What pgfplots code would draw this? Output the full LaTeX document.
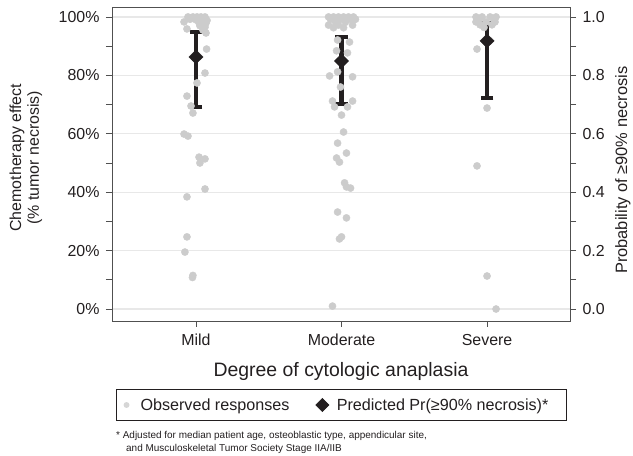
\documentclass[border=0pt]{standalone}
\usepackage{pgfplots}
\pgfplotsset{compat=1.18}
\usepackage{pgfplotstable}
\usepackage{fontspec}
\setmainfont{Liberation Sans}
\definecolor{dotgray}{RGB}{204,204,204}
\definecolor{legdot}{RGB}{214,214,214}
\definecolor{dark}{RGB}{35,31,32}
\definecolor{framegray}{RGB}{80,80,80}
\definecolor{gridgray}{RGB}{232,232,232}

% Observed responses (x = category + jitter, y = % necrosis)
\pgfplotstableread{
x y
0.945 100
0.979 100
1.007 100
1.034 100
1.062 100
0.959 99.2
1.000 99.0
1.048 99.3
1.076 98.8
0.918 98.3
1.021 98.0
1.069 97.9
1.027 97.0
1.062 96.5
0.938 95.9
1.048 95.5
1.069 94.5
1.073 89.0
1.062 80.8
1.007 77.4
0.938 72.9
0.966 69.5
0.979 67.1
0.918 59.9
0.945 59.2
1.021 52.0
1.062 51.4
1.027 50.0
1.062 41.1
0.938 38.4
0.938 24.7
0.924 19.5
0.979 11.5
0.976 10.8
1.911 100
1.945 100
1.979 100
2.014 100
2.048 100
2.082 100
1.924 99.2
1.993 99.2
2.062 99.2
2.096 99.2
1.959 98.2
2.027 98.2
1.911 97.2
1.979 97.2
2.076 97.2
2.014 96.3
1.945 96.3
1.973 92.1
2.055 91.4
1.966 88.4
2.041 87.7
1.973 81.2
1.918 79.8
2.076 79.5
1.993 76.0
1.938 71.2
2.076 71.2
1.952 69.2
2.041 69.2
2.000 66.4
2.014 60.6
1.973 56.8
2.034 53.4
1.966 51.7
1.986 50.3
2.021 43.2
2.062 41.4
2.034 41.8
1.973 33.2
2.034 31.2
2.000 24.7
1.986 24.0
1.938 1.0
2.924 100
2.966 100
3.021 100
3.062 100
2.945 99.2
3.048 99.2
2.924 98.3
2.993 98.3
3.055 98.3
2.952 97.3
3.034 97.3
2.979 96.4
2.931 89.0
3.000 68.8
2.931 49.0
3.000 11.3
3.062 0.0
}\obs

\begin{document}
\begin{tikzpicture}
\useasboundingbox (0,0) rectangle (633bp,456bp);
\begin{axis}[
  at={(112bp,135bp)}, anchor=south west,
  scale only axis, width=458bp, height=314bp,
  xmin=0.423, xmax=3.570, ymin=-4.1, ymax=103.4,
  xtick={1,2,3}, xticklabels={Mild,Moderate,Severe},
  ytick={0,20,40,60,80,100}, minor ytick={10,30,50,70,90},
  yticklabel={\pgfmathprintnumber{\tick}\%},
  /pgf/number format/assume math mode=true,
  tick align=outside, xtick pos=bottom, ytick pos=left,
  major tick length=6bp, minor tick length=6bp,
  tick style={framegray, line width=0.8bp},
  axis line style={framegray, line width=0.9bp},
  ymajorgrids, grid style={gridgray, line width=1.3bp},
  ticklabel style={font=\fontsize{16}{19}\selectfont, text=dark},
  xticklabel style={text height=11.5bp, text depth=3.5bp, yshift=-3bp},
  yticklabel style={xshift=-3bp},
  xlabel={Degree of cytologic anaplasia},
  xlabel style={at={(axis description cs:0.5,-0.162)}, anchor=center,
    font=\fontsize{19.5}{23}\selectfont, text=dark},
  ylabel={Chemotherapy effect\\(\% tumor necrosis)},
  ylabel style={at={(axis description cs:-0.188,0.52)}, anchor=center,
    align=center, font=\fontsize{16}{18}\selectfont, text=dark},
  legend columns=2,
  legend style={at={(0.501,-0.2675)}, anchor=center, draw=dark, line width=0.8bp,
    font=\fontsize{16.2}{19}\selectfont, text=dark,
    inner xsep=4bp, inner ysep=7bp,
    /tikz/every even column/.append style={column sep=24bp}},
]
\addplot[only marks, mark=*, mark size=3.6bp, color=dotgray,
  mark options={draw=dotgray, fill=dotgray},
  legend image code/.code={\path[draw=none,fill=none] (0,0) -- (18bp,0); \fill[legdot] (6bp,0) circle (2.5bp);}]
  table[x=x, y=y] {\obs};
\addlegendentry{Observed responses}
\addplot[only marks, mark=none, forget plot,
  error bars/.cd, y dir=both, y explicit,
  error bar style={dark, line width=4.5bp},
  error mark options={rotate=90, dark, line width=4bp, mark size=6.2bp}]
  coordinates {
    (1,86.3) += (0,8.6) -= (0,17.1)
    (2,84.9) += (0,8.3) -= (0,14.7)
    (3,91.8) += (0,6.2) -= (0,19.5)
  };
\addplot[only marks, mark=diamond*, mark size=7bp,
  mark options={draw=dark, fill=dark, xscale=1.35},
  legend image code/.code={\path[draw=none,fill=none] (0,0) -- (19bp,0); \fill[dark] (0,0)--(6.5bp,6.5bp)--(13bp,0)--(6.5bp,-6.5bp)--cycle;}]
  coordinates {(1,86.3) (2,84.9) (3,91.8)};
\addlegendentry{Predicted Pr(≥90\% necrosis)*\kern12bp\rule{0pt}{1pt}}
\end{axis}
\begin{axis}[
  at={(112bp,135bp)}, anchor=south west,
  scale only axis, width=458bp, height=314bp,
  xmin=0.423, xmax=3.570, ymin=-0.041, ymax=1.034,
  axis x line=none, axis y line*=right,
  ytick={0,0.2,0.4,0.6,0.8,1}, minor ytick={0.1,0.3,0.5,0.7,0.9},
  /pgf/number format/assume math mode=true,
  tick align=outside,
  major tick length=6bp, minor tick length=6bp,
  tick style={framegray, line width=0.8bp},
  axis line style={framegray, line width=0.9bp},
  ticklabel style={font=\fontsize{16}{19}\selectfont, text=dark},
  yticklabel style={xshift=3bp, /pgf/number format/.cd, fixed, fixed zerofill, precision=1},
  ylabel={Probability of ≥90\% necrosis},
  ylabel style={at={(axis description cs:1.1245,0.48)}, anchor=base,
    font=\fontsize{16.5}{19}\selectfont, text=dark},
]
\addplot[draw=none] coordinates {(1,0)};
\end{axis}
\node[anchor=base west, font=\fontsize{10}{12}\selectfont, text=dark, inner sep=0pt]
  at (116bp,17.5bp) {* Adjusted for median patient age, osteoblastic type, appendicular site,};
\node[anchor=base west, font=\fontsize{10}{12}\selectfont, text=dark, inner sep=0pt]
  at (126bp,5bp) {and Musculoskeletal Tumor Society Stage IIA/IIB};
\end{tikzpicture}
\end{document}
